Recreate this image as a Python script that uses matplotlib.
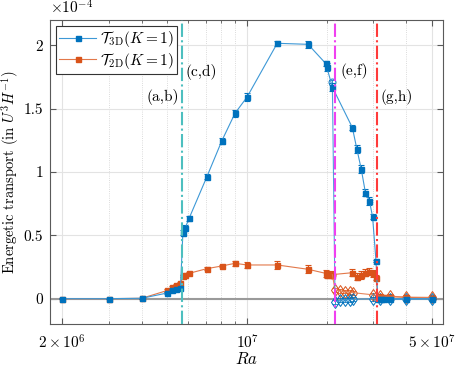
import matplotlib
matplotlib.use("Agg")
import matplotlib.pyplot as plt
import numpy as np
from matplotlib.ticker import FixedLocator, NullFormatter
from matplotlib.lines import Line2D

plt.rcParams['font.family'] = 'serif'
plt.rcParams['font.serif'] = ['cmr10']
plt.rcParams['mathtext.fontset'] = 'cm'
plt.rcParams['axes.unicode_minus'] = False

# ---- data (energetic transport in units of 1e-4 U^3 H^-1) ----
ra_main = [2e6, 3e6, 4e6, 5e6, 5.2e6, 5.4e6, 5.6e6, 5.72e6, 5.84e6, 6.04e6,
           7.05e6, 8.03e6, 9.0e6, 1.0e7, 1.3e7, 1.7e7, 1.98e7, 2.0e7, 2.1e7,
           2.5e7, 2.6e7, 2.7e7, 2.8e7, 2.9e7, 2.98e7, 3.07e7,
           3.12e7, 3.2e7, 3.3e7, 3.46e7, 4.0e7, 5.0e7]
t3d_main = [0.0, 0.0, 0.003, 0.045, 0.07, 0.078, 0.085, 0.52, 0.56, 0.635,
            0.963, 1.247, 1.463, 1.592, 2.016, 2.008, 1.858, 1.83, 1.67,
            1.35, 1.18, 1.024, 0.837, 0.771, 0.647, 0.298,
            0.0, 0.0, 0.0, 0.0, 0.0, 0.0]
t3d_err = [0.003, 0.003, 0.003, 0.01, 0.01, 0.01, 0.01, 0.02, 0.02, 0.02,
           0.02, 0.025, 0.03, 0.035, 0.02, 0.03, 0.02, 0.03, 0.03,
           0.02, 0.03, 0.03, 0.03, 0.03, 0.02, 0.01,
           0.01, 0.01, 0.01, 0.01, 0.01, 0.01]
t2d_main = [0.0, 0.0, 0.003, 0.065, 0.09, 0.105, 0.12, 0.18, 0.19, 0.2,
            0.237, 0.258, 0.279, 0.266, 0.266, 0.232, 0.2, 0.19, 0.19,
            0.205, 0.174, 0.187, 0.205, 0.213, 0.2, 0.166,
            0.02, 0.015, 0.015, 0.015, 0.01, 0.005]
t2d_err = [0.003, 0.003, 0.003, 0.01, 0.01, 0.01, 0.01, 0.01, 0.01, 0.01,
           0.01, 0.01, 0.02, 0.02, 0.03, 0.03, 0.03, 0.03, 0.03,
           0.03, 0.03, 0.03, 0.03, 0.03, 0.03, 0.02,
           0.01, 0.01, 0.01, 0.01, 0.01, 0.01]

ra_alt = [2.1e7, 2.15e7, 2.25e7, 2.35e7, 2.45e7, 2.52e7,
          3.0e7, 3.18e7, 3.46e7, 4.0e7, 5.0e7]
t3d_alt = [1.71, -0.024, -0.012, -0.01, -0.008, -0.005,
           0.0, -0.003, -0.005, -0.005, -0.003]
t2d_alt = [0.19, 0.069, 0.062, 0.056, 0.05, 0.047,
           0.03, 0.02, 0.02, 0.012, 0.01]
alt_err = [0.02, 0.015, 0.015, 0.015, 0.015, 0.015,
           0.015, 0.015, 0.015, 0.015, 0.015]

vlines_ra = [5.66e6, 2.148e7, 3.11e7]
vlines_col = ['#4dbfbf', '#f040f0', '#ff3b3b']
labels_txt = ['(a,b)', '(c,d)', '(e,f)', '(g,h)']
labels_ra = [5.55e6, 5.85e6, 2.25e7, 3.2e7]
labels_y = [1.59, 1.79, 1.80, 1.59]
labels_ha = ['right', 'left', 'left', 'left']

xticks = [2e6, 1e7, 5e7]
xticklabels = [r'$2\times10^{6}$', r'$10^{7}$', r'$5\times10^{7}$']
yticks = [0, 0.5, 1, 1.5, 2]
yticklabels = ['0', '0.5', '1', '1.5', '2']

blue = '#0072BD'
orange = '#D95319'
blue_line = '#3d98d6'
orange_line = '#e2784a'

fig = plt.figure(figsize=(4.57, 3.66), dpi=100)
ax = fig.add_axes([50/457, 1-324/366, 393/457, 304/366])
ax.set_xscale('log')
ax.set_xlim(1.8e6, 5.5e7)
ax.set_ylim(-0.2, 2.2)

ax.axhline(0, color='#9a9a9a', lw=1.5, zorder=1.5)

ekw = dict(capsize=2, elinewidth=0.8, capthick=0.8, lw=0.8)
ax.errorbar(ra_main, t3d_main, yerr=t3d_err, color=blue_line, ecolor=blue,
            marker='s', ms=3.6, mfc=blue, mec=blue, zorder=4, **ekw)
ax.errorbar(ra_main, t2d_main, yerr=t2d_err, color=orange_line, ecolor=orange,
            marker='s', ms=3.6, mfc=orange, mec=orange, zorder=3, **ekw)

# alternative branch with open markers
for vals, col, lc in [(t2d_alt, orange, orange_line), (t3d_alt, blue, blue_line)]:
    ax.errorbar(ra_alt, vals, yerr=alt_err, color=lc, ecolor=col, lw=0.8,
                elinewidth=0.6, capsize=2, capthick=0.6, marker='none',
                zorder=3, alpha=0.9)
    ax.plot(ra_alt[1:], vals[1:], ls='none', marker='d', ms=6, mfc='none',
            mec=col, mew=0.7, zorder=3)
    ax.plot(ra_alt[:1], vals[:1], ls='none', marker='o', ms=5, mfc='none',
            mec=col, mew=0.7, zorder=3)

for xv, c in zip(vlines_ra, vlines_col):
    ax.axvline(xv, color=c, lw=1.5, ls='-.', zorder=5)

for t, xr, yv, ha in zip(labels_txt, labels_ra, labels_y, labels_ha):
    ax.text(xr, yv, t, ha=ha, va='center', fontsize=11)

ax.xaxis.set_major_locator(FixedLocator(xticks))
ax.set_xticklabels(xticklabels)
minor = [m * 10**e for e in (6, 7) for m in range(2, 10)]
ax.xaxis.set_minor_locator(FixedLocator([v for v in minor if v not in xticks]))
ax.xaxis.set_minor_formatter(NullFormatter())
ax.set_yticks(yticks)
ax.set_yticklabels(yticklabels)

ax.grid(True, which='major', color='#e3e3e3', lw=0.8, zorder=0)
ax.grid(True, which='minor', axis='x', color='#cfcfcf', lw=0.6, ls=':', zorder=0)
ax.set_axisbelow(True)

ax.tick_params(which='both', direction='in', top=True, right=True,
               labelsize=11, color='#5a5a5a')
ax.tick_params(axis='x', pad=7)
ax.tick_params(axis='y', pad=5)
ax.tick_params(which='major', length=4)
ax.tick_params(which='minor', length=2.5)
for s in ax.spines.values():
    s.set_color('#5a5a5a')
    s.set_linewidth(0.8)

ax.set_xlabel(r'$Ra$', fontsize=12)
ax.xaxis.set_label_coords(0.5, -0.088)
ax.set_ylabel(r'Energetic transport (in $U^3H^{-1}$)', fontsize=10.5)
ax.yaxis.set_label_coords(-0.074, 0.5)
ax.text(0.0, 1.01, r'$\times10^{-4}$', transform=ax.transAxes, ha='left',
        va='bottom', fontsize=11)

handles = [Line2D([], [], color=blue_line, lw=0.8, marker='s', ms=3.6,
                  mfc=blue, mec=blue),
           Line2D([], [], color=orange_line, lw=0.8, marker='s', ms=3.6,
                  mfc=orange, mec=orange)]
leg = ax.legend(handles, [r'$\mathcal{T}_{\rm 3D}(K=1)$', r'$\mathcal{T}_{\rm 2D}(K=1)$'],
                loc='upper left', fontsize=11, frameon=True, fancybox=False,
                edgecolor='#333333', framealpha=1, borderpad=0.2,
                handlelength=2.4, handletextpad=0.3, labelspacing=0.1,
                borderaxespad=0.4)
leg.get_frame().set_linewidth(0.8)

fig.savefig('out.png', dpi=100)
